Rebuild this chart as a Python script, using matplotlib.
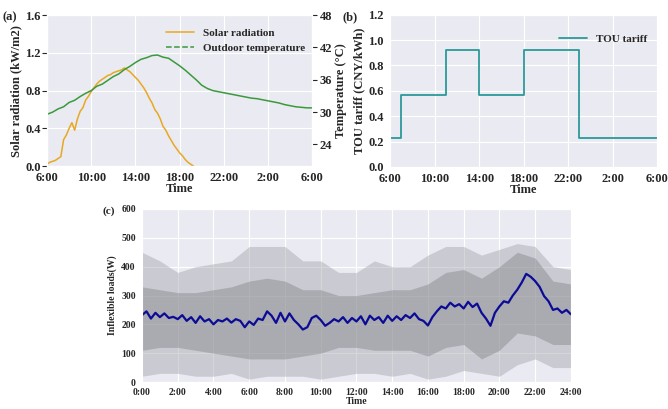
import numpy as np
import matplotlib
matplotlib.use('Agg')
import matplotlib.pyplot as plt
import seaborn as sns
from matplotlib.lines import Line2D

# ---- data ----
# (a) solar radiation, 15 min steps from 6:00
solar_start = 6.0
solar = [0.02, 0.04, 0.05, 0.06, 0.08, 0.10, 0.28, 0.33, 0.40, 0.46, 0.38, 0.50,
         0.58, 0.62, 0.70, 0.74, 0.79, 0.83, 0.87, 0.90, 0.92, 0.94, 0.96, 0.97,
         0.99, 1.00, 1.01, 1.02, 1.04, 1.02, 1.00, 0.97, 0.94, 0.91, 0.87, 0.83,
         0.78, 0.72, 0.67, 0.60, 0.56, 0.50, 0.42, 0.38, 0.32, 0.27, 0.22, 0.18,
         0.14, 0.11, 0.07, 0.04, 0.02, 0.0]
# (a) outdoor temperature, 30 min steps from 6:00 to 6:00 next day
temp = [29.6, 30.0, 30.6, 31.0, 31.8, 32.2, 32.9, 33.5, 34.0, 34.8, 35.2, 35.9,
        36.6, 37.1, 37.9, 38.5, 39.2, 39.8, 40.1, 40.5, 40.6, 40.2, 40.0, 39.3,
        38.6, 37.8, 36.9, 36.0, 35.0, 34.4, 34.0, 33.8, 33.6, 33.4, 33.2, 33.0,
        32.8, 32.6, 32.5, 32.3, 32.1, 31.9, 31.7, 31.4, 31.2, 31.0, 30.9, 30.8,
        30.8]
# (b) TOU tariff, hourly from 6:00 to 6:00 next day
tou = [0.23, 0.57, 0.57, 0.57, 0.57, 0.92, 0.92, 0.92, 0.57, 0.57, 0.57, 0.57,
       0.92, 0.92, 0.92, 0.92, 0.92, 0.23, 0.23, 0.23, 0.23, 0.23, 0.23, 0.23,
       0.23]
day_ticks = ['6:00', '10:00', '14:00', '18:00', '22:00', '2:00', '6:00']

# (c) mean inflexible load, 15 min steps 0:00-24:00
load_mean = [232, 245, 220, 240, 225, 238, 222, 226, 218, 232, 212, 225,
             205, 228, 210, 218, 200, 215, 210, 220, 206, 218, 212, 190,
             210, 198, 220, 215, 245, 230, 205, 240, 210, 238, 215, 200,
             182, 190, 222, 230, 215, 195, 205, 218, 210, 225, 205, 222,
             210, 228, 200, 230, 215, 225, 205, 230, 212, 228, 215, 232,
             222, 238, 218, 212, 196, 225, 245, 262, 255, 275, 262, 270,
             255, 278, 260, 272, 240, 220, 195, 240, 262, 280, 275, 300,
             320, 345, 375, 365, 350, 330, 298, 280, 250, 255, 240, 250,
             235]
# (c) spread of the individual household profiles, hourly 0:00-24:00
outer_lo = [20, 30, 30, 20, 20, 30, 10, 20, 20, 20, 10, 20, 30,
            30, 20, 30, 10, 20, 40, 30, 20, 60, 80, 50, 50]
outer_hi = [450, 420, 380, 400, 410, 420, 470, 470, 470, 420, 420, 380, 380,
            420, 400, 400, 440, 470, 470, 440, 460, 480, 470, 400, 390]
inner_lo = [110, 120, 120, 110, 100, 90, 80, 80, 80, 90, 100, 120, 120,
            110, 110, 110, 90, 120, 130, 80, 110, 170, 160, 130, 130]
inner_hi = [330, 320, 310, 310, 320, 330, 350, 360, 350, 320, 320, 300, 300,
            310, 320, 320, 340, 380, 390, 360, 400, 450, 430, 350, 340]

sns.set_style('darkgrid')
plt.rcParams['font.family'] = ['Liberation Serif', 'DejaVu Serif']
plt.rcParams['font.weight'] = 'bold'
plt.rcParams['axes.labelweight'] = 'bold'

fig = plt.figure(figsize=(6.68, 4.09), dpi=100)
fs = 9

# ---------- (a) ----------
ax1 = fig.add_axes([0.0704, 0.594, 0.397, 0.369])
t_sol = solar_start + np.arange(len(solar)) * 0.25
t_tmp = 6 + np.arange(len(temp)) * 0.5
ax1.plot(t_sol, solar, color='#E8A822', lw=1.1)
ax1.set_xlim(6, 30)
ax1.set_ylim(0, 1.6)
ax1.set_xticks(np.arange(6, 31, 4))
ax1.set_xticklabels(day_ticks)
ax1.set_yticks([0.0, 0.4, 0.8, 1.2, 1.6])
ax1.set_ylabel('Solar radiation (kW/m2)', fontsize=fs, labelpad=2)
ax1.set_xlabel('Time', fontsize=fs, labelpad=-1)
ax1.tick_params(labelsize=fs, pad=1)
ax1r = ax1.twinx()
ax1r.plot(t_tmp, temp, color='#3A9A3A', lw=1.1)
ax1r.set_ylim(20, 48)
ax1r.set_yticks([24, 30, 36, 42, 48])
ax1r.grid(False)
ax1r.tick_params(labelsize=fs, pad=2)
ax1r.set_ylabel('Temperature (\u00b0C)', fontsize=fs, labelpad=2)
handles = [Line2D([], [], color='#E8A822', lw=1.1),
           Line2D([], [], color='#3A9A3A', lw=1.1, ls='--')]
ax1r.legend(handles, ['Solar radiation', 'Outdoor temperature'], loc='upper right',
            fontsize=8, frameon=False, bbox_to_anchor=(1.01, 0.98),
            handlelength=2.5, labelspacing=0.45)
fig.text(0.003, 0.958, '(a)', fontsize=fs, weight='bold', va='center')

# ---------- (b) ----------
ax2 = fig.add_axes([0.584, 0.592, 0.400, 0.372])
t_tou = 6 + np.arange(len(tou))
ax2.plot(t_tou, tou, color='#2A9A98', lw=1.3, drawstyle='steps-post', label='TOU tariff')
ax2.set_xlim(6, 30)
ax2.set_ylim(0, 1.2)
ax2.set_xticks(np.arange(6, 31, 4))
ax2.set_xticklabels(day_ticks)
ax2.set_yticks([0.0, 0.2, 0.4, 0.6, 0.8, 1.0, 1.2])
ax2.set_ylabel('TOU tariff (CNY/kWh)', fontsize=fs, labelpad=2)
ax2.set_xlabel('Time', fontsize=fs, labelpad=-1)
ax2.tick_params(labelsize=fs, pad=1)
ax2.legend(loc='upper right', fontsize=8, frameon=False,
           bbox_to_anchor=(1.0, 0.94), handlelength=2.5)
fig.text(0.512, 0.958, '(b)', fontsize=fs, weight='bold', va='center')

# ---------- (c) ----------
ax3 = fig.add_axes([0.2126, 0.066, 0.642, 0.423])
hrs = np.arange(len(outer_lo))
ax3.fill_between(hrs, outer_lo, outer_hi, color='#9A9AA2', alpha=0.4, lw=0)
ax3.fill_between(hrs, inner_lo, inner_hi, color='#84848A', alpha=0.45, lw=0)
t_load = np.arange(len(load_mean)) * 0.25
ax3.plot(t_load, load_mean, color='#0B0B96', lw=1.6)
ax3.set_xlim(0, 24)
ax3.set_ylim(0, 600)
ax3.set_xticks(np.arange(0, 25, 2))
ax3.set_xticklabels(['%d:00' % h for h in range(0, 25, 2)])
ax3.set_yticks(np.arange(0, 601, 100))
ax3.set_ylabel('Inflexible loads(W)', fontsize=7, labelpad=3)
ax3.set_xlabel('Time', fontsize=7, labelpad=0)
ax3.tick_params(labelsize=7, pad=1)
fig.text(0.153, 0.483, '(c)', fontsize=8, weight='bold', va='center')

fig.savefig('out.png', dpi=100)
